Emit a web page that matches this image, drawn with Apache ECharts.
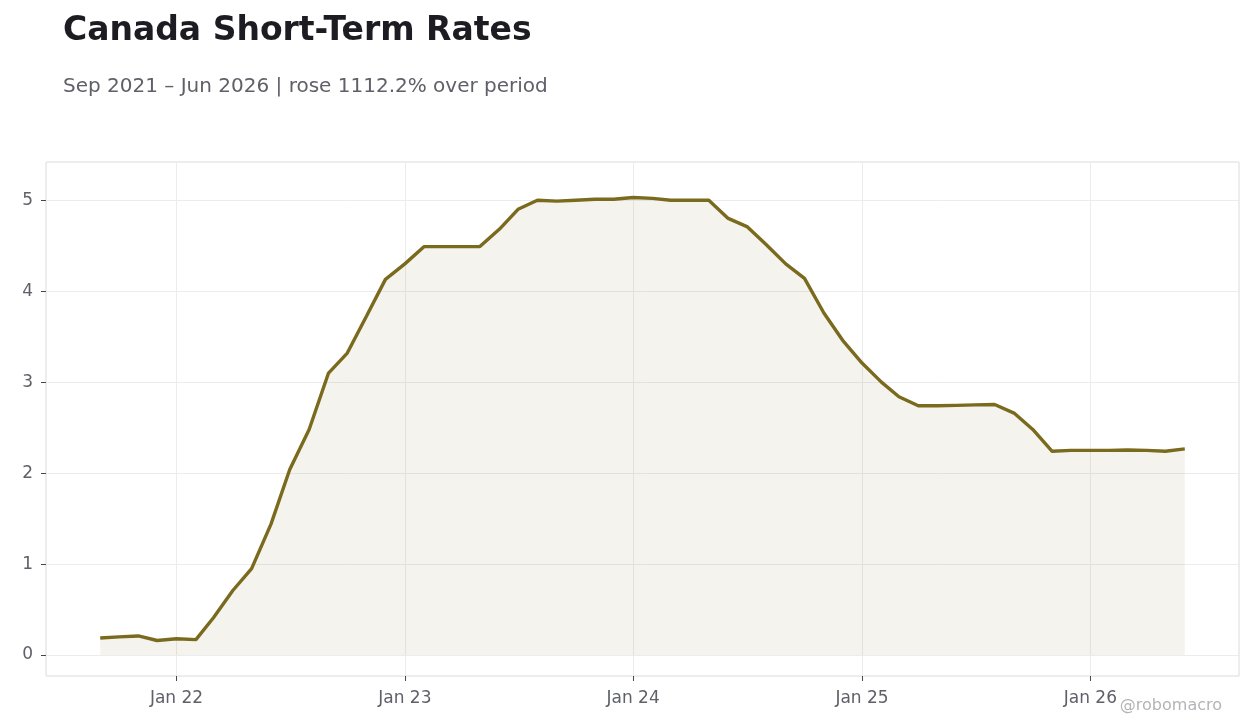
<!DOCTYPE html>
<html lang="en">
<head>
    <meta charset="UTF-8">
    <title>Canada Short-Term Rates</title>
    <script src="https://cdn.jsdelivr.net/npm/echarts@6/dist/echarts.min.js"></script>
    <style>
        html, body { margin:0; padding:0; background:#fff; }
        #chart { width:1260px; height:728px; }
    </style>
</head>
<body>
<div id="chart"></div>
<script>
    // monthly observations, first of month, Sep 2021 .. Jun 2026
    var startMonth = '2021-09';
    var rates = [
        0.187, 0.20, 0.21, 0.16,
        0.18, 0.17, 0.41, 0.71, 0.95, 1.44, 2.04, 2.48, 3.10, 3.32, 3.73, 4.13,
        4.30, 4.49, 4.49, 4.49, 4.49, 4.68, 4.90, 5.00, 4.99, 5.00, 5.01, 5.01,
        5.03, 5.02, 5.00, 5.00, 5.00, 4.80, 4.71, 4.51, 4.30, 4.14, 3.76, 3.46,
        3.21, 3.00, 2.84, 2.74, 2.74, 2.745, 2.75, 2.755, 2.66, 2.48, 2.24, 2.25,
        2.25, 2.25, 2.255, 2.25, 2.24, 2.267
    ];
    var yTicks = [0, 1, 2, 3, 4, 5];

    var lineColor = '#7a6a1e';
    var textGrey = '#5f6068';

    // build [date, value] pairs
    var points = [];
    var y0 = parseInt(startMonth.slice(0, 4)), m0 = parseInt(startMonth.slice(5)) - 1;
    for (var i = 0; i < rates.length; i++) {
        points.push([Date.UTC(y0, m0 + i, 1), rates[i]]);
    }
    var tFirst = points[0][0], tLast = points[points.length - 1][0];
    var pad = (tLast - tFirst) * 0.05;

    var chart = echarts.init(document.getElementById('chart'));
    var option = {
        animation: false,
        backgroundColor: '#fff',
        textStyle: { fontFamily: 'DejaVu Sans' },
        title: [{
            text: 'Canada Short-Term Rates',
            left: 58, top: 10,
            textStyle: { fontSize: 33, fontWeight: 'bold', color: '#1c1c22', fontFamily: 'DejaVu Sans' }
        }, {
            text: 'Sep 2021 \u2013 Jun 2026 | rose 1112.2% over period',
            left: 58, top: 72,
            textStyle: { fontSize: 20, fontWeight: 'normal', color: textGrey, fontFamily: 'DejaVu Sans' }
        }],
        grid: {
            left: 46, right: 21, top: 162, bottom: 52,
            show: true, borderColor: '#dcdce0', borderWidth: 1,
            containLabel: false
        },
        xAxis: {
            type: 'time',
            min: tFirst - pad,
            max: tLast + pad,
            minInterval: 365 * 86400000,
            maxInterval: 366 * 86400000,
            axisLine: { show: false, onZero: false },
            axisTick: { show: true, length: 5, lineStyle: { color: '#44454d' } },
            splitLine: { show: true, lineStyle: { color: '#ececee', width: 1 } },
            axisLabel: {
                color: textGrey, fontSize: 17, margin: 14,
                showMinLabel: false, showMaxLabel: false,
                formatter: function (v) {
                    var d = new Date(v);
                    return 'Jan ' + String(d.getUTCFullYear()).slice(2);
                }
            }
        },
        yAxis: {
            type: 'value',
            min: -0.23,
            max: 5.42,
            splitNumber: 6,
            axisLine: { show: false },
            axisTick: { show: true, length: 5, lineStyle: { color: '#44454d' } },
            splitLine: { show: true, lineStyle: { color: '#ececee', width: 1 } },
            axisLabel: {
                color: textGrey, fontSize: 17, margin: 13,
                showMinLabel: false, showMaxLabel: false,
                formatter: function (v) {
                    return yTicks.indexOf(v) >= 0 ? String(v) : '';
                }
            }
        },
        graphic: [{
            type: 'text',
            right: 38, bottom: 14,
            style: { text: '@robomacro', fill: '#b4b4b8', fontSize: 16, fontFamily: 'DejaVu Sans' }
        }],
        series: [{
            type: 'line',
            data: points,
            symbol: 'none',
            lineStyle: { color: lineColor, width: 3.4 },
            areaStyle: { color: lineColor, opacity: 0.08, origin: 0 },
            z: 3
        }]
    };
    chart.setOption(option);
</script>
</body>
</html>
